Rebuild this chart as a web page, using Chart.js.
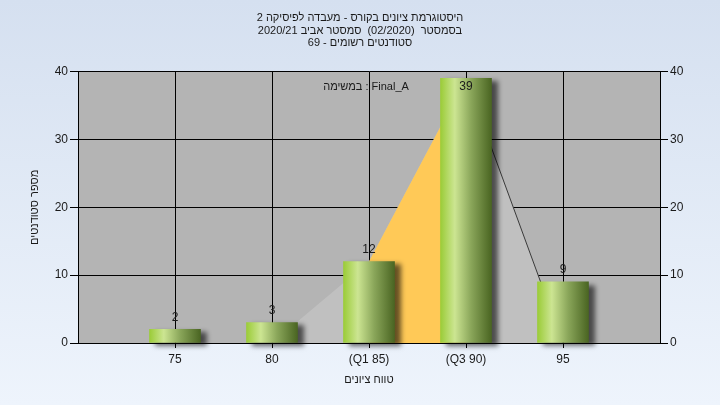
<!DOCTYPE html>
<html lang="he">
<head>
<meta charset="utf-8">
<title>היסטוגרמת ציונים</title>
<script src="https://cdn.jsdelivr.net/npm/chart.js@4.4.1/dist/chart.umd.min.js"></script>
<style>
  html, body { margin: 0; padding: 0; }
  body { width: 720px; height: 405px; overflow: hidden; background: linear-gradient(#d5e0f0, #eef4fc); }
  #wrap { width: 720px; height: 405px; position: relative; }
</style>
</head>
<body>
<div id="wrap"><canvas id="histChart"></canvas></div>
<script>
// --- DATA ---
const titleLines = [
    'היסטוגרמת ציונים בקורס - מעבדה לפיסיקה 2',
    'בסמסטר  (02/2020)  סמסטר אביב 2020/21',
    'סטודנטים רשומים - 69'
];
const assignmentLabel = 'במשימה : Final_A';
const xAxisTitle = 'טווח ציונים';
const yAxisTitle = 'מספר סטודנטים';

const gradeBins = [75, 80, 85, 90, 95];
const gradeLabels = ['75', '80', '(Q1 85)', '(Q3 90)', '95'];
const studentCounts = [2, 3, 12, 39, 9];

// background distribution shape (grey), quartile band (orange)
const curveX = [80, 85, 90, 95];
const curveY = [0, 12, 39, 0];
const quartileBand = [85, 90];

const xRange = [70, 100];
const yRange = [0, 40];

// --- HELPERS ---
const FONT = '"Liberation Sans", Arial, sans-serif';
Chart.defaults.font.family = FONT;
Chart.defaults.font.size = 12;
Chart.defaults.color = '#1a1a1a';

const BAR_W = 51;

function barGradient(context) {
    const chart = context.chart;
    const xs = chart.scales.x;
    if (!chart.chartArea || !xs || context.raw == null) return '#9bcc3a';
    const cx = xs.getPixelForValue(context.raw.x);
    const g = chart.ctx.createLinearGradient(cx - BAR_W / 2, 0, cx + BAR_W / 2, 0);
    g.addColorStop(0, '#9bcc38');
    g.addColorStop(0.28, '#cce592');
    g.addColorStop(0.6, '#8aa65a');
    g.addColorStop(1, '#4a6522');
    return g;
}

// grey plot background
const plotBackground = {
    id: 'plotBackground',
    beforeDraw(chart) {
        const { ctx, chartArea: a } = chart;
        ctx.save();
        ctx.fillStyle = '#b4b4b4';
        ctx.fillRect(a.left, a.top, a.right - a.left, a.bottom - a.top);
        ctx.restore();
    }
};

// drop shadow under bars
const barShadow = {
    id: 'barShadow',
    beforeDatasetDraw(chart, args) {
        if (args.meta.type !== 'bar') return;
        const ctx = chart.ctx;
        ctx.save();
        ctx.shadowColor = 'rgba(0,0,0,0.6)';
        ctx.shadowBlur = 5;
        ctx.shadowOffsetX = 6;
        ctx.shadowOffsetY = 3;
    },
    afterDatasetDraw(chart, args) {
        if (args.meta.type !== 'bar') return;
        chart.ctx.restore();
    }
};

// value labels + assignment caption
const barLabels = {
    id: 'barLabels',
    afterDatasetsDraw(chart) {
        const { ctx, chartArea: a } = chart;
        const meta = chart.getDatasetMeta(0);
        ctx.save();
        ctx.font = '12px ' + FONT;
        ctx.fillStyle = '#1a1a1a';
        ctx.textAlign = 'center';
        ctx.textBaseline = 'middle';
        meta.data.forEach((bar, i) => {
            let y = bar.y - 12;
            if (y - 6 < a.top) y = bar.y + 8;
            ctx.fillText(String(studentCounts[i]), bar.x, y);
        });
        ctx.font = '11px ' + FONT;
        ctx.fillText(assignmentLabel, (a.left + a.right) / 2 - 3, a.top + 15);
        ctx.restore();
    }
};

const curvePoints = curveX.map((x, i) => ({ x, y: curveY[i] }));
const bandPoints = curvePoints.filter(p => p.x >= quartileBand[0] && p.x <= quartileBand[1]);
const tailPoints = curvePoints.filter(p => p.x >= quartileBand[1]);

const chart = new Chart(document.getElementById('histChart'), {
    data: {
        datasets: [
            {
                type: 'bar',
                data: gradeBins.map((x, i) => ({ x, y: studentCounts[i] })),
                backgroundColor: barGradient,
                borderWidth: 0,
                barThickness: BAR_W,
                clip: false,
                order: 0
            },
            {
                type: 'line',
                data: tailPoints,
                borderColor: '#3a3a3a',
                borderWidth: 1,
                pointRadius: 0,
                fill: false,
                order: 1
            },
            {
                type: 'line',
                data: bandPoints,
                borderWidth: 0,
                pointRadius: 0,
                backgroundColor: '#ffc957',
                fill: 'origin',
                order: 2
            },
            {
                type: 'line',
                data: curvePoints,
                borderWidth: 0,
                pointRadius: 0,
                backgroundColor: '#c0c0c0',
                fill: 'origin',
                order: 3
            }
        ]
    },
    options: {
        responsive: true,
        maintainAspectRatio: false,
        animation: false,
        layout: { padding: 0, autoPadding: false },
        plugins: {
            legend: { display: false },
            tooltip: { enabled: false },
            title: {
                display: true,
                text: titleLines,
                color: '#1a1a1a',
                font: { size: 11, weight: 'normal', lineHeight: 1.14 },
                padding: { top: 12, bottom: 22 }
            }
        },
        scales: {
            x: {
                type: 'linear',
                min: xRange[0],
                max: xRange[1],
                offset: false,
                afterBuildTicks: (s) => { s.ticks = gradeBins.map(v => ({ value: v })); },
                afterFit: (s) => { s.height = 62; },
                ticks: {
                    callback: (v) => gradeLabels[gradeBins.indexOf(v)] ?? '',
                    color: '#1a1a1a',
                    padding: 4,
                    maxRotation: 0
                },
                grid: { color: '#000', tickLength: 5, lineWidth: 1, offset: false },
                border: { color: '#000' },
                title: {
                    display: true,
                    text: xAxisTitle,
                    color: '#1a1a1a',
                    font: { size: 11 },
                    padding: { top: 0, bottom: 18 }
                }
            },
            y: {
                position: 'left',
                min: yRange[0],
                max: yRange[1],
                afterFit: (s) => { s.width = 78; },
                ticks: { stepSize: 10, color: '#1a1a1a', padding: 2 },
                grid: { color: '#000', tickLength: 8, lineWidth: 1 },
                border: { color: '#000' },
                title: {
                    display: true,
                    text: yAxisTitle,
                    color: '#1a1a1a',
                    font: { size: 11 },
                    padding: { top: 28, bottom: 0 }
                }
            },
            y2: {
                position: 'right',
                min: yRange[0],
                max: yRange[1],
                afterFit: (s) => { s.width = 60; },
                ticks: { stepSize: 10, color: '#1a1a1a', padding: 2 },
                grid: { color: '#000', tickLength: 8, drawOnChartArea: false },
                border: { color: '#000' }
            }
        }
    },
    plugins: [plotBackground, barShadow, barLabels]
});
</script>
</body>
</html>
